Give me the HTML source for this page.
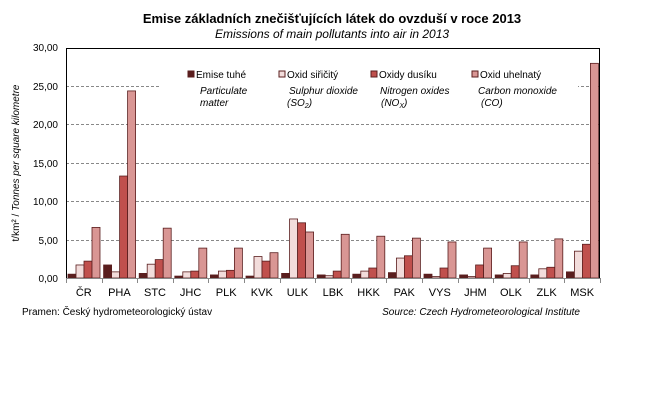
<!DOCTYPE html><html><head><style>body{margin:0;background:#fff}svg{display:block}text{font-family:"Liberation Sans",sans-serif}</style></head><body>
<svg width="665" height="405" xmlns="http://www.w3.org/2000/svg">
<rect width="665" height="405" fill="#fff"/>
<text x="332" y="23" text-anchor="middle" font-size="13" font-weight="bold">Emise základních znečišťujících látek do ovzduší v roce 2013</text>
<text x="332" y="38" text-anchor="middle" font-size="12" font-style="italic">Emissions of main pollutants into air in 2013</text>
<g stroke="#888" stroke-dasharray="3,2" stroke-width="1">
<line x1="66" x2="600" y1="240.5" y2="240.5"/><line x1="66" x2="600" y1="201.5" y2="201.5"/><line x1="66" x2="600" y1="163.5" y2="163.5"/><line x1="66" x2="600" y1="124.5" y2="124.5"/><line x1="66" x2="600" y1="86.5" y2="86.5"/>
</g>
<rect x="160" y="58" width="418" height="60" fill="#fff"/>
<g font-size="10" text-anchor="end" fill="#000">
<text x="58" y="282">0,00</text><text x="58" y="244">5,00</text><text x="58" y="205">10,00</text><text x="58" y="167">15,00</text><text x="58" y="128">20,00</text><text x="58" y="90">25,00</text><text x="58" y="51">30,00</text>
</g>
<text transform="translate(19,163) rotate(-90)" text-anchor="middle" font-size="10">t/km² / <tspan font-style="italic">Tonnes per square kilometre</tspan></text>
<g id="bars" stroke="#5a1e1e" stroke-width="0.8"></g>
<line x1="66.5" y1="48" x2="66.5" y2="278" stroke="#000"/>
<line x1="66" y1="48.5" x2="600" y2="48.5" stroke="#000"/>
<line x1="599.5" y1="48" x2="599.5" y2="278" stroke="#000"/>
<line x1="66" y1="278.5" x2="600" y2="278.5" stroke="#888"/>
<g id="ticks" stroke="#888"></g>
<g id="labels" font-size="11" text-anchor="middle"></g>
<g font-size="10">
<rect x="188" y="71" width="6" height="6" fill="#5a1e1e" stroke="#5a1e1e"/><text x="196" y="78">Emise tuhé</text>
<rect x="279" y="71" width="6" height="6" fill="#f2dcdb" stroke="#5a1e1e"/><text x="287" y="78">Oxid siřičitý</text>
<rect x="371" y="71" width="6" height="6" fill="#c0504d" stroke="#5a1e1e"/><text x="379" y="78">Oxidy dusíku</text>
<rect x="472" y="71" width="6" height="6" fill="#d99694" stroke="#5a1e1e"/><text x="480" y="78">Oxid uhelnatý</text>
<g font-style="italic"><text x="200" y="94">Particulate</text><text x="200" y="106">matter</text>
<text x="289" y="94">Sulphur dioxide</text><text x="287" y="106">(SO<tspan font-size="7" dy="2">2</tspan><tspan dy="-2">)</tspan></text>
<text x="380" y="94">Nitrogen oxides</text><text x="381" y="106">(NO<tspan font-size="7" dy="2">X</tspan><tspan dy="-2">)</tspan></text>
<text x="478" y="94">Carbon monoxide</text><text x="481" y="106">(CO)</text></g>
</g>
<text x="22" y="315" font-size="10">Pramen: Český hydrometeorologický ústav</text>
<text x="580" y="315" font-size="10" font-style="italic" text-anchor="end">Source: Czech Hydrometeorological Institute</text>
<script>
var d=[["ČR",.5,1.7,2.2,6.6],["PHA",1.7,.8,13.3,24.4],["STC",.6,1.8,2.4,6.5],["JHC",.25,.8,.9,3.9],["PLK",.4,.9,1.0,3.9],["KVK",.25,2.8,2.2,3.3],["ULK",.6,7.7,7.2,6.0],["LBK",.4,.3,.9,5.7],["HKK",.5,.9,1.3,5.45],["PAK",.7,2.6,2.9,5.2],["VYS",.5,.2,1.3,4.7],["JHM",.4,.2,1.7,3.9],["OLK",.4,.6,1.6,4.7],["ZLK",.4,1.2,1.4,5.1],["MSK",.8,3.5,4.4,28.0]];
var c=["#5a1e1e","#f2dcdb","#c0504d","#d99694"],ns="http://www.w3.org/2000/svg",b=document.getElementById("bars"),t=document.getElementById("ticks"),l=document.getElementById("labels"),w=534/15,s=230/30;
d.forEach(function(r,i){var x0=66+w*i+2;for(var k=0;k<4;k++){var h=r[k+1]*s,e=document.createElementNS(ns,"rect");e.setAttribute("x",x0+k*8);e.setAttribute("y",278-h);e.setAttribute("width",8);e.setAttribute("height",h);e.setAttribute("fill",c[k]);b.appendChild(e);}
var tx=document.createElementNS(ns,"text");tx.setAttribute("x",66+w*(i+.5));tx.setAttribute("y",296);tx.textContent=r[0];l.appendChild(tx);});
for(var i=0;i<=15;i++){var ln=document.createElementNS(ns,"line"),x=Math.round(66+w*i)+.5;ln.setAttribute("x1",x);ln.setAttribute("x2",x);ln.setAttribute("y1",278);ln.setAttribute("y2",283);t.appendChild(ln);}
</script>
</svg></body></html>
